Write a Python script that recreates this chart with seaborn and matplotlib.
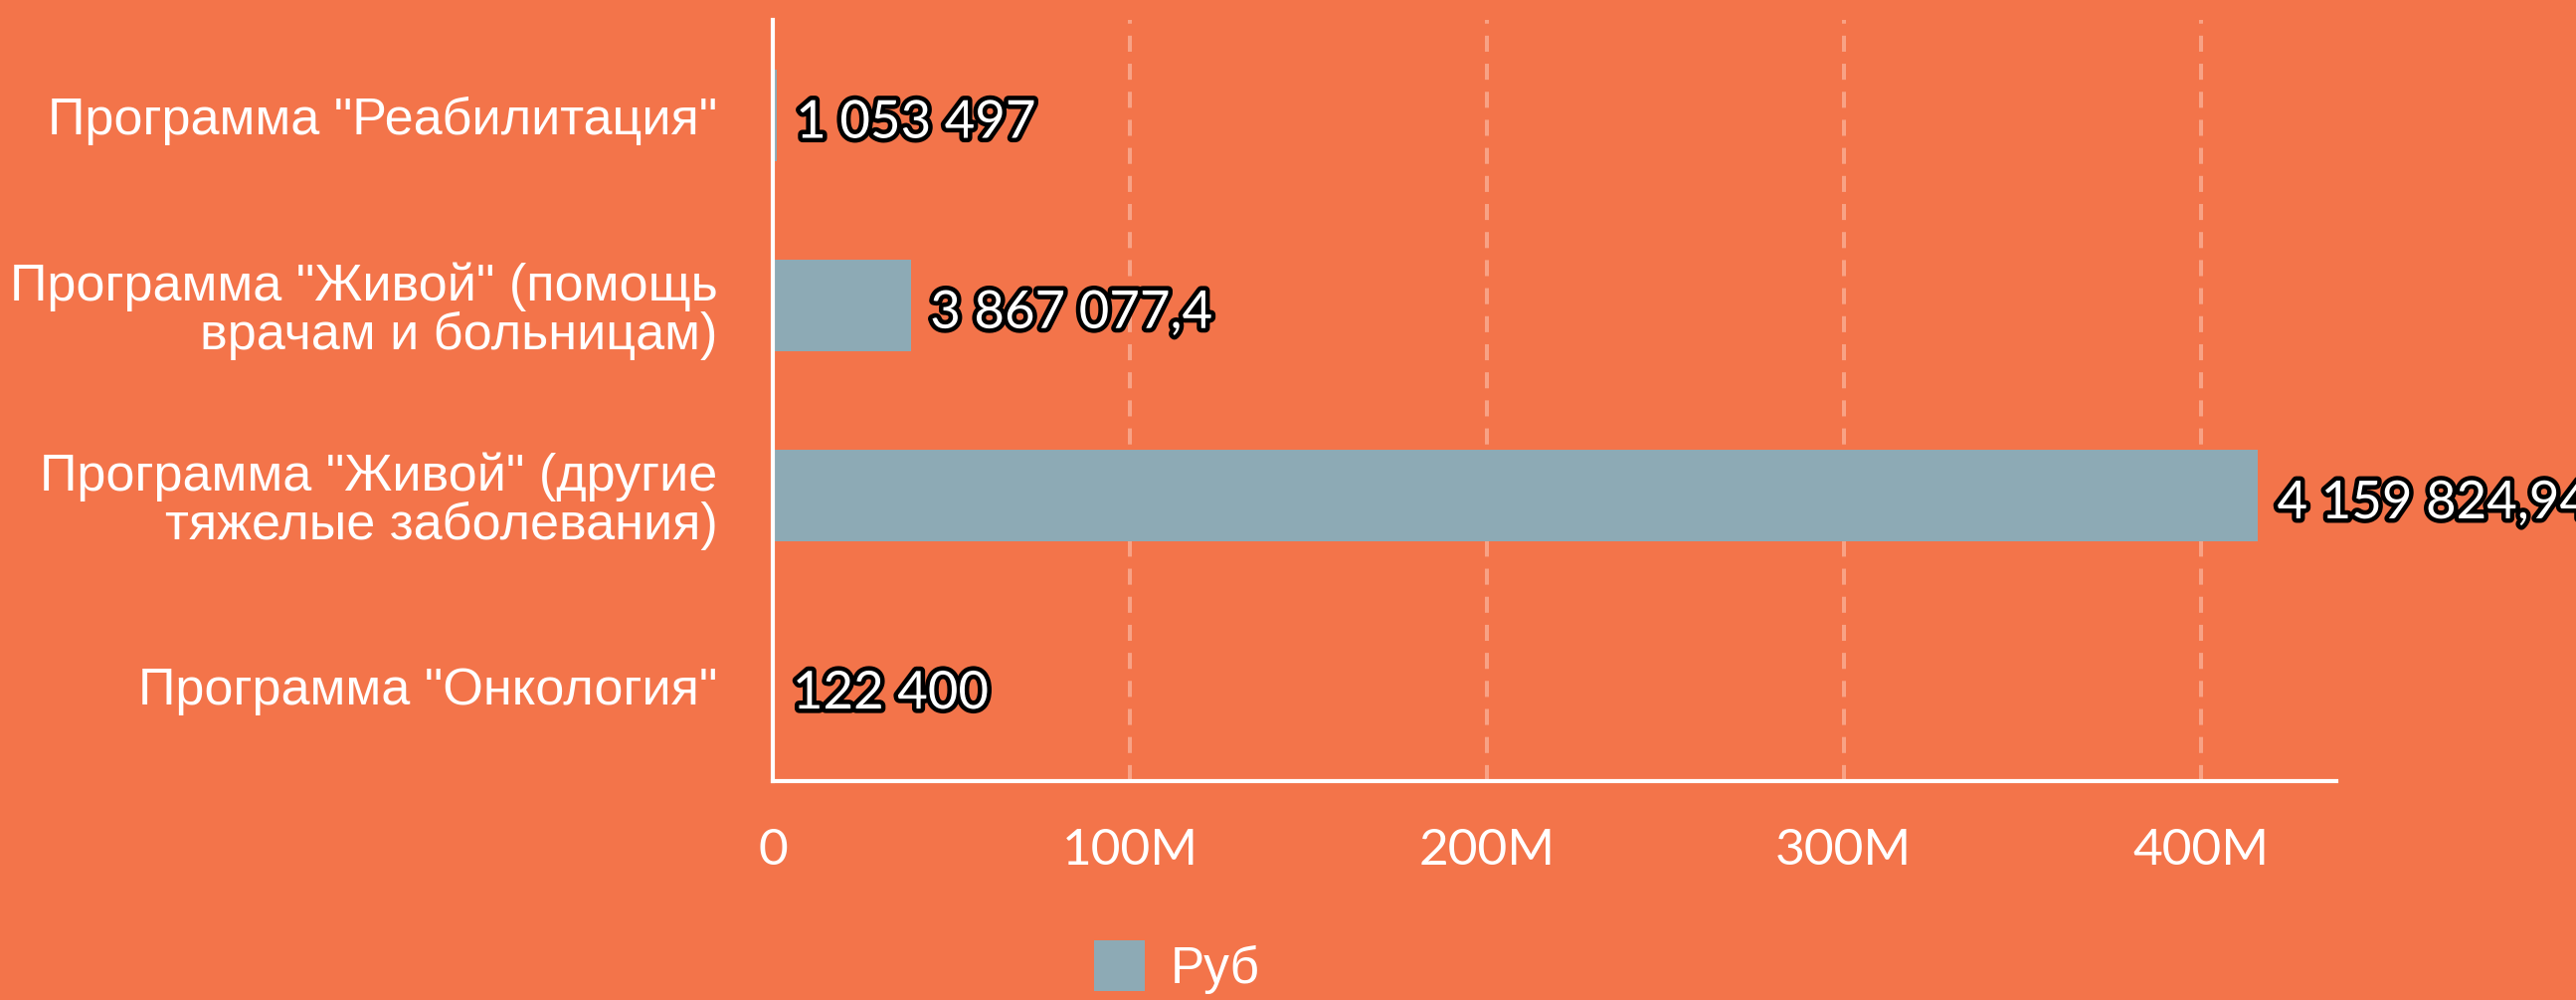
import numpy as np
import pandas as pd
import matplotlib
matplotlib.use("Agg")
import matplotlib.pyplot as plt
import matplotlib.patheffects as pe
from matplotlib.patches import Patch
import seaborn as sns

# data
categories = [
    'Программа "Реабилитация"',
    'Программа "Живой" (помощь\nврачам и больницам)',
    'Программа "Живой" (другие\nтяжелые заболевания)',
    'Программа "Онкология"',
]
values = [1053497, 38670774, 415982494, 122400]
value_labels = ["1 053 497", "3 867 077,4", "4 159 824,94", "122 400"]
xticks = [0, 100e6, 200e6, 300e6, 400e6]
xtick_labels = ["0", "100M", "200M", "300M", "400M"]

bg = "#F3744A"
bar_color = "#8DAAB5"

df = pd.DataFrame({"category": categories, "value": values})

sns.set_style("white")
plt.rcParams["font.family"] = ["Liberation Sans", "DejaVu Sans"]

fig = plt.figure(figsize=(25.9, 10.05), dpi=100, facecolor=bg)
ax = fig.add_axes([0.3, 0.219, 0.607, 0.761])
ax.set_facecolor(bg)

sns.barplot(data=df, x="value", y="category", orient="h", color=bar_color,
            saturation=1, width=0.48, edgecolor="none", ax=ax)

ax.set_xlim(0, 438e6)
ax.set_ylim(3.5, -0.5)
ax.set_xticks(xticks)
ax.set_xticklabels(xtick_labels, family="Lato", fontsize=37, color="white")
ax.tick_params(axis="x", length=0, pad=34)
ax.tick_params(axis="y", length=0, pad=40, labelsize=37.5, labelcolor="white")
for lab in ax.get_yticklabels():
    lab.set_linespacing(1.0)
ax.set_xlabel("")
ax.set_ylabel("")

# dashed vertical grid
for xv in xticks[1:]:
    ax.axvline(xv, color="#F8A285", lw=2.9, ls=(0, (4, 3)), zorder=0)

for side in ["top", "right"]:
    ax.spines[side].set_visible(False)
for side in ["left", "bottom"]:
    ax.spines[side].set_color("white")
    ax.spines[side].set_linewidth(3)

# value labels with black outline
for i, (v, txt) in enumerate(zip(values, value_labels)):
    ax.annotate(txt, xy=(v, i), xytext=(14, -6), textcoords="offset points",
                va="center", ha="left", family="Lato",
                fontsize=38, color="white", clip_on=False,
                path_effects=[pe.withStroke(linewidth=6.5, foreground="black")])

handles = [Patch(facecolor=bar_color, edgecolor="none", label="Руб")]
fig.legend(handles=handles, loc="center", bbox_to_anchor=(0.457, 0.033),
           frameon=False, fontsize=37, labelcolor="white",
           handlelength=1.0, handleheight=1.15, handletextpad=0.5)

fig.savefig("out.png", dpi=100, facecolor=bg)
